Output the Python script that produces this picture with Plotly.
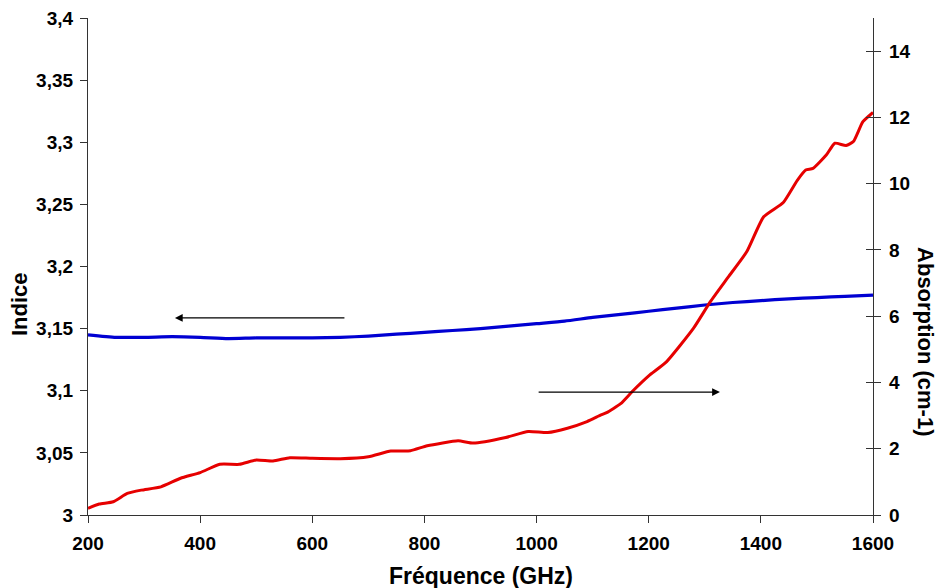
import plotly.graph_objects as go

# Index (left axis)
freq_idx = [200, 250, 300, 350, 400, 450, 500, 550, 600, 650, 700, 750, 800, 850, 900,
            950, 1000, 1050, 1100, 1150, 1200, 1250, 1300, 1350, 1400, 1450, 1500, 1550, 1600]
indice = [3.145, 3.143, 3.143, 3.1435, 3.143, 3.142, 3.1425, 3.1425, 3.1425, 3.143, 3.144,
          3.1455, 3.147, 3.1485, 3.150, 3.152, 3.154, 3.156, 3.159, 3.1615, 3.164, 3.1665,
          3.169, 3.171, 3.1725, 3.174, 3.175, 3.176, 3.177]

# Absorption (right axis)
freq_abs = [200, 220, 245, 270, 295, 330, 365, 400, 435, 470, 500, 530, 560, 600, 650, 700,
            740, 775, 805, 860, 887, 945, 985, 1020, 1055, 1090, 1115, 1125, 1150, 1172, 1200,
            1232, 1280, 1310, 1340, 1375, 1405, 1440, 1465, 1480, 1493, 1517, 1532, 1552,
            1565, 1582, 1600]
absorption = [0.20, 0.33, 0.40, 0.65, 0.75, 0.85, 1.11, 1.28, 1.53, 1.53, 1.66, 1.63, 1.73,
              1.71, 1.70, 1.76, 1.93, 1.94, 2.09, 2.24, 2.17, 2.34, 2.52, 2.49, 2.62, 2.82,
              3.02, 3.09, 3.36, 3.75, 4.20, 4.63, 5.64, 6.44, 7.14, 7.95, 9.0, 9.43, 10.1,
              10.41, 10.46, 10.87, 11.22, 11.15, 11.27, 11.87, 12.15]

x_ticks = [200, 400, 600, 800, 1000, 1200, 1400, 1600]
y_ticks = [3.0, 3.05, 3.1, 3.15, 3.2, 3.25, 3.3, 3.35, 3.4]
y_ticklabels = ["3", "3,05", "3,1", "3,15", "3,2", "3,25", "3,3", "3,35", "3,4"]
y2_ticks = [0, 2, 4, 6, 8, 10, 12, 14]

FONT = "Liberation Sans, Arial, sans-serif"
AX = "#333333"
TICKFONT = dict(family=FONT, size=19, color="black", weight="bold")

fig = go.Figure()
fig.add_trace(go.Scatter(x=freq_idx, y=indice, mode="lines", yaxis="y",
                         line=dict(color="rgb(0,0,210)", width=3.2, shape="spline", smoothing=0.6),
                         showlegend=False))
fig.add_trace(go.Scatter(x=freq_abs, y=absorption, mode="lines", yaxis="y2",
                         line=dict(color="rgb(230,0,0)", width=3, shape="spline", smoothing=0.5),
                         showlegend=False))
# invisible helper trace for the inner tick axis
fig.add_trace(go.Scatter(x=[200], y=[0], yaxis="y3", mode="markers",
                         marker=dict(opacity=0), showlegend=False, hoverinfo="skip"))

fig.update_layout(
    width=943, height=588,
    margin=dict(l=80, r=78, t=10, b=81),
    paper_bgcolor="white", plot_bgcolor="white",
    font=dict(family=FONT, size=18, color="black"),
    xaxis=dict(range=[200, 1600], tickvals=x_ticks, ticks="outside", ticklen=7,
               tickcolor=AX, showline=True, linecolor=AX, linewidth=1.3,
               showgrid=False, zeroline=False, automargin=False, tickfont=TICKFONT,
               ticklabelstandoff=4, ticklabeloverflow="allow"),
    yaxis=dict(range=[3.0, 3.4], tickvals=y_ticks, ticktext=y_ticklabels,
               ticks="outside", ticklen=7, tickcolor=AX, showline=True, linecolor=AX,
               linewidth=1.3, showgrid=False, zeroline=False, automargin=False,
               tickfont=TICKFONT, ticklabelstandoff=3, ticklabeloverflow="allow"),
    yaxis2=dict(range=[0, 15], tickvals=y2_ticks, overlaying="y", side="right",
                ticks="outside", ticklen=7, tickcolor=AX, showline=True, linecolor=AX,
                linewidth=1.3, showgrid=False, zeroline=False, automargin=False,
                tickfont=TICKFONT, ticklabelstandoff=4, ticklabeloverflow="allow"),
    yaxis3=dict(range=[0, 15], tickvals=y2_ticks, overlaying="y", side="right",
                ticks="inside", ticklen=7, tickcolor=AX, showline=False, automargin=False,
                showticklabels=False, showgrid=False, zeroline=False),
    annotations=[
        dict(text="<b>Indice</b>", xref="paper", yref="paper", x=0, y=0.4245,
             xshift=-69, xanchor="center", yanchor="middle", textangle=-90, showarrow=False,
             font=dict(family=FONT, size=22, color="black")),
        dict(text="<b>Absorption (cm-1)</b>", xref="paper", yref="paper", x=1, y=0.35,
             xshift=53, xanchor="center", yanchor="middle", textangle=90, showarrow=False,
             font=dict(family=FONT, size=22, color="black")),
        dict(text="<b>Fréquence (GHz)</b>", xref="paper", yref="paper", x=0.5, y=0,
             yshift=-61, xanchor="center", yanchor="middle", showarrow=False,
             font=dict(family=FONT, size=23, color="black")),
        dict(x=355, y=3.1586, xref="x", yref="y", ax=660, ay=3.1586, axref="x", ayref="y",
             showarrow=True, arrowhead=2, arrowsize=1.3, arrowwidth=1.2, arrowcolor="black",
             text=""),
        dict(x=1327, y=3.71, xref="x", yref="y2", ax=1001, ay=3.71, axref="x", ayref="y2",
             showarrow=True, arrowhead=2, arrowsize=1.3, arrowwidth=1.2, arrowcolor="black",
             text=""),
    ],
)

fig.write_html("out.html")
